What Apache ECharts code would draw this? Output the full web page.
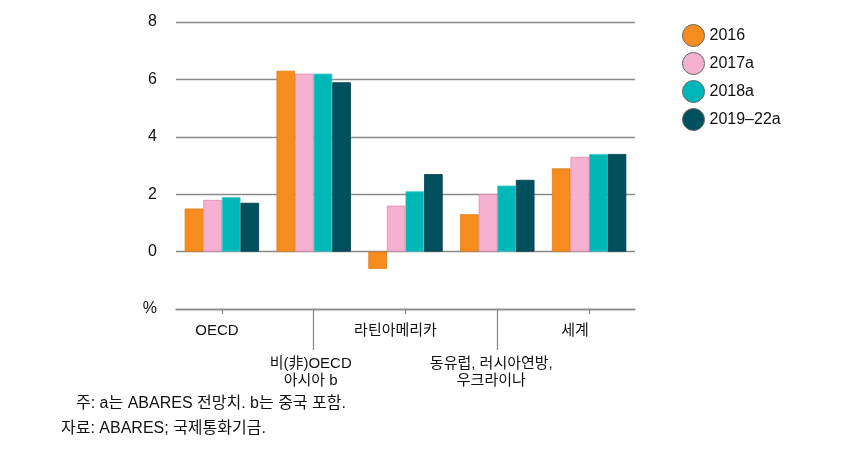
<!DOCTYPE html>
<html><head><meta charset="utf-8">
<script src="https://cdn.jsdelivr.net/npm/echarts@6/dist/echarts.min.js"></script>
<style>html,body{margin:0;padding:0;background:#fff}#c{width:842px;height:458px}</style>
</head><body><div id="c"></div>
<script>
const categories = ['OECD', '비(非)OECD\n아시아 b', '라틴아메리카', '동유럽, 러시아연방,\n우크라이나', '세계'];
const seriesNames = ['2016', '2017a', '2018a', '2019–22a'];
const s2016 = [1.5, 6.3, -0.6, 1.3, 2.9];
const s2017 = [1.8, 6.2, 1.6, 2.0, 3.3];
const s2018 = [1.9, 6.2, 2.1, 2.3, 3.4];
const s2019 = [1.7, 5.9, 2.7, 2.5, 3.4];
const yTicks = [-2, 0, 2, 4, 6, 8];
const notes = ['주: a는 ABARES 전망치. b는 중국 포함.', '자료: ABARES; 국제통화기금.'];

const colors = ['#F78D1F', '#F5B1CF', '#00B7B8', '#00505E'];
const borders = ['#e07a10', '#e28aae', '#34c6c6', '#003e4a'];
const font = '"Liberation Sans", "Noto Sans CJK KR", sans-serif';
const values = [s2016, s2017, s2018, s2019];
const shiftPad = [10, 6, 20, 12, 28];

const rich = {};
shiftPad.forEach((p, i) => {
  rich['r' + i] = {fontSize: 15, lineHeight: 16.5, color: '#111', fontFamily: font, padding: [0, p, 0, 0]};
});

const chart = echarts.init(document.getElementById('c'), null, {renderer: 'canvas'});
chart.setOption({
  animation: false,
  textStyle: {fontFamily: font},
  grid: {left: 176, top: 22, width: 459, height: 287, containLabel: false},
  legend: {
    orient: 'vertical', left: 677, top: 19, itemWidth: 22, itemHeight: 22, itemGap: 5,
    icon: 'circle',
    textStyle: {fontSize: 16, color: '#111', fontFamily: font},
    itemStyle: {borderColor: '#666', borderWidth: 1},
    data: seriesNames
  },
  xAxis: [{
    type: 'category', data: categories, position: 'bottom',
    axisLine: {show: true, onZero: false, lineStyle: {color: '#8a8a8a', width: 1.3}},
    axisTick: {show: true, alignWithLabel: true, length: 5, lineStyle: {color: '#8a8a8a', width: 1.3},
      interval: (i) => i % 2 === 0},
    axisLabel: {
      interval: 0, margin: 14, color: '#111', fontSize: 15, lineHeight: 16.5,
      rich: rich,
      formatter: (v, i) => {
        const body = v.split('\n').map(s => '{r' + i + '|' + s + '}').join('\n');
        return i % 2 === 1 ? '\n\n' + body : body;
      }
    }
  }, {
    type: 'category', data: categories, position: 'bottom',
    axisLine: {show: false, onZero: false},
    axisTick: {show: true, alignWithLabel: true, length: 41, lineStyle: {color: '#8a8a8a', width: 1.3},
      interval: (i) => i % 2 === 1},
    axisLabel: {show: false}
  }],
  yAxis: {
    type: 'value', min: -2, max: 8, interval: 2,
    axisLine: {show: false}, axisTick: {show: false},
    splitLine: {lineStyle: {color: '#8a8a8a', width: 1.3}},
    axisLabel: {margin: 19, color: '#111', fontSize: 16,
      formatter: (v) => (v === -2 ? '%' : String(v))}
  },
  series: seriesNames.map((n, k) => ({
    name: n, type: 'bar', xAxisIndex: 0, data: values[k],
    barGap: '0%', barCategoryGap: '19%',
    itemStyle: {color: colors[k], borderColor: borders[k], borderWidth: 0.8}
  })),
  graphic: [
    {type: 'text', left: 76, top: 396, style: {text: notes[0], fill: '#111', fontSize: 16, fontFamily: font}},
    {type: 'text', left: 61, top: 421, style: {text: notes[1], fill: '#111', fontSize: 16, fontFamily: font}}
  ]
});
</script></body></html>
